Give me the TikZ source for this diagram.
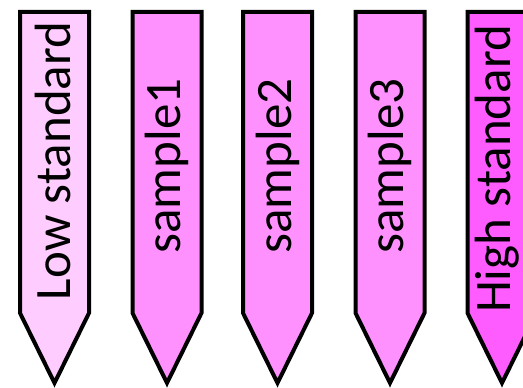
\documentclass[tikz,border=0pt]{standalone}
\usepackage{fontspec}
\setmainfont{Carlito}
\definecolor{lowc}{RGB}{255,204,255}
\definecolor{midc}{RGB}{255,145,255}
\definecolor{highc}{RGB}{255,92,255}
\begin{document}
\begin{tikzpicture}[x=1pt,y=1pt,
  pencil/.style={draw=black,line width=4pt,line join=miter},
  lbl/.style={rotate=90,inner sep=0pt,font=\fontsize{51}{60}\selectfont}]
\useasboundingbox (0,0) rectangle (523,388);
\foreach \cx/\tx/\ty/\col/\txt/\nm in {54.5/53/227/lowc/Low standard/low,167/167/222/midc/sample1/s1,277.5/277.5/222/midc/sample2/s2,390/390/222/midc/sample3/s3,502/497/219/highc/High standard/high}{
  \fill[\col] (\cx-34.5,376) -- (\cx+34.5,376) -- (\cx+34.5,75) -- (\cx,5) -- (\cx-34.5,75) -- cycle;
  \draw[pencil] (\cx-34.5,376) -- (\cx+34.5,376) -- (\cx+34.5,75) -- (\cx,5) -- (\cx-34.5,75) -- cycle;
  \node[lbl] (\nm) at (\tx,\ty) {\txt};
}
\end{tikzpicture}
\end{document}
